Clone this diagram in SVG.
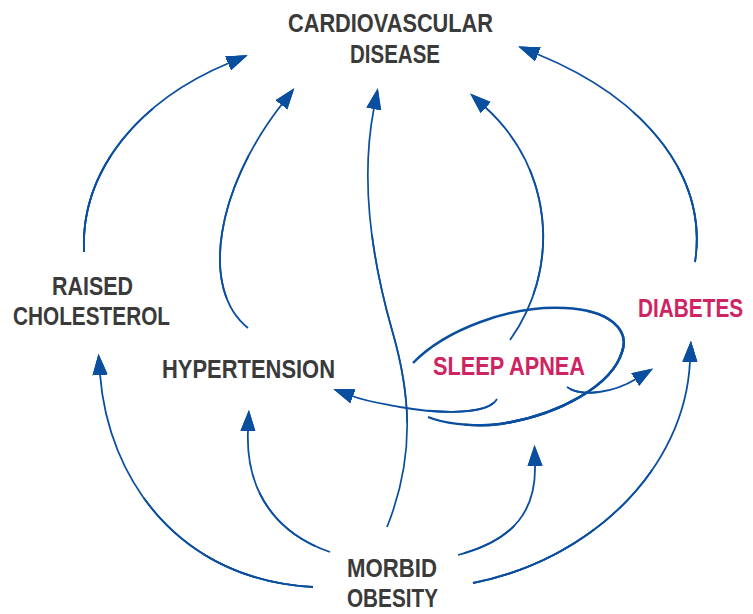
<svg xmlns="http://www.w3.org/2000/svg" xmlns:xlink="http://www.w3.org/1999/xlink" width="753" height="614" viewBox="0 0 753 614">
<style>
.lbl{font-family:"Liberation Sans",Arial,sans-serif;font-weight:bold;font-size:26px;fill:#3a3a3a}
.pink{fill:#cf2462}
.c{fill:none;stroke:#0a4f9f;stroke-width:1.8}
.m{marker-end:url(#ah)}
.w3{stroke-width:3}
.w4{stroke-width:4}
.w5{stroke-width:5}
</style>
<defs>
<marker id="ah" markerUnits="userSpaceOnUse" markerWidth="22" markerHeight="16" viewBox="0 0 22 16" refX="1" refY="8" orient="auto">
<path d="M0,0.5 L21,8 L0,15.5 Z" fill="#0a4f9f"/>
</marker>
</defs>
<rect width="753" height="614" fill="#ffffff"/>
<g id="connectors">
<path id="a1" class="c m" pathLength="100" d="M 84 252 C 80 170 140 100 229 63"/>
<use xlink:href="#a1" href="#a1" class="c w3" style="stroke-dasharray:0 0 65 200;marker-end:none"/>
<use xlink:href="#a1" href="#a1" class="c w4" style="stroke-dasharray:0 5 35 200;marker-end:none"/>

<path id="a2" class="c m" pathLength="100" d="M 248 328 C 200 290 215 190 282 104"/>
<use xlink:href="#a2" href="#a2" class="c" style="stroke-width:2.6;stroke-dasharray:0 15 60 200;marker-end:none"/>

<path id="a3" class="c m" pathLength="100" style="stroke-width:1.7" d="M 387 527 C 418 450 408 385 392 330 C 372 260 360 180 374 108"/>
<use xlink:href="#a3" href="#a3" class="c" style="stroke-width:2.4;stroke-dasharray:0 25 45 200;marker-end:none"/>

<path id="a4" class="c m" pathLength="100" d="M 695 262 C 708 180 650 100 537 54"/>
<use xlink:href="#a4" href="#a4" class="c w3" style="stroke-dasharray:0 0 60 200;marker-end:none"/>
<use xlink:href="#a4" href="#a4" class="c w4" style="stroke-dasharray:0 5 30 200;marker-end:none"/>

<path id="a5" class="c m" pathLength="100" d="M 510 340 C 560 270 555 170 485 107"/>
<use xlink:href="#a5" href="#a5" class="c" style="stroke-width:2.7;stroke-dasharray:0 20 50 200;marker-end:none"/>

<path id="loop" class="c" pathLength="100" style="stroke-width:2.4" d="M 413 363 C 445 330 510 305 565 308 C 610 310 630 330 622 352 C 612 385 560 415 500 424 C 470 428 440 422 428 417"/>
<use xlink:href="#loop" href="#loop" class="c" style="stroke-width:3.5;stroke-dasharray:0 40 52 200"/>
<use xlink:href="#loop" href="#loop" class="c w5" style="stroke-dasharray:0 52 32 200"/>

<path id="a6" class="c m" pathLength="100" d="M 497 399 C 488 415 440 414 400 407 C 385 404 368 402 352 396"/>
<use xlink:href="#a6" href="#a6" class="c w3" style="stroke-dasharray:0 3 45 200;marker-end:none"/>

<path id="a7" class="c m" pathLength="100" d="M 567 387 C 582 398 615 392 636 379"/>
<use xlink:href="#a7" href="#a7" class="c w3" style="stroke-dasharray:0 5 40 200;marker-end:none"/>

<path id="a8" class="c m" pathLength="100" d="M 313 587 C 180 580 108 480 100 374"/>
<use xlink:href="#a8" href="#a8" class="c" style="stroke-width:3.2;stroke-dasharray:0 0 60 200;marker-end:none"/>
<use xlink:href="#a8" href="#a8" class="c w4" style="stroke-dasharray:0 5 30 200;marker-end:none"/>

<path id="a9" class="c m" pathLength="100" d="M 330 552 C 280 535 245 495 248 430"/>
<use xlink:href="#a9" href="#a9" class="c" style="stroke-width:2.5;stroke-dasharray:0 10 50 200;marker-end:none"/>

<path id="a10" class="c m" pathLength="100" d="M 458 555 C 515 540 536 510 535 465"/>
<use xlink:href="#a10" href="#a10" class="c" style="stroke-width:2.7;stroke-dasharray:0 5 45 200;marker-end:none"/>

<path id="a11" class="c m" pathLength="100" d="M 473 583 C 590 560 685 470 690 361"/>
<use xlink:href="#a11" href="#a11" class="c" style="stroke-width:3.2;stroke-dasharray:0 0 65 200;marker-end:none"/>
<use xlink:href="#a11" href="#a11" class="c" style="stroke-width:4.2;stroke-dasharray:0 5 35 200;marker-end:none"/>
</g>
<g id="cvd">
<text class="lbl" x="288" y="32" textLength="205" lengthAdjust="spacingAndGlyphs">CARDIOVASCULAR</text>
<text class="lbl" x="350" y="63" textLength="90" lengthAdjust="spacingAndGlyphs">DISEASE</text>
</g>
<g id="cholesterol">
<text class="lbl" x="52" y="295" textLength="81" lengthAdjust="spacingAndGlyphs">RAISED</text>
<text class="lbl" x="13" y="325" textLength="157" lengthAdjust="spacingAndGlyphs">CHOLESTEROL</text>
</g>
<g id="hypertension">
<text class="lbl" x="162" y="378" textLength="173" lengthAdjust="spacingAndGlyphs">HYPERTENSION</text>
</g>
<g id="sleep-apnea">
<text class="lbl pink" x="433" y="375" textLength="152" lengthAdjust="spacingAndGlyphs">SLEEP APNEA</text>
</g>
<g id="diabetes">
<text class="lbl pink" transform="translate(638 317) scale(0.8 1)" x="0" y="0">DIABETES</text>
</g>
<g id="obesity">
<text class="lbl" x="347" y="577" textLength="90" lengthAdjust="spacingAndGlyphs">MORBID</text>
<text class="lbl" x="347" y="607" textLength="91" lengthAdjust="spacingAndGlyphs">OBESITY</text>
</g>
</svg>
